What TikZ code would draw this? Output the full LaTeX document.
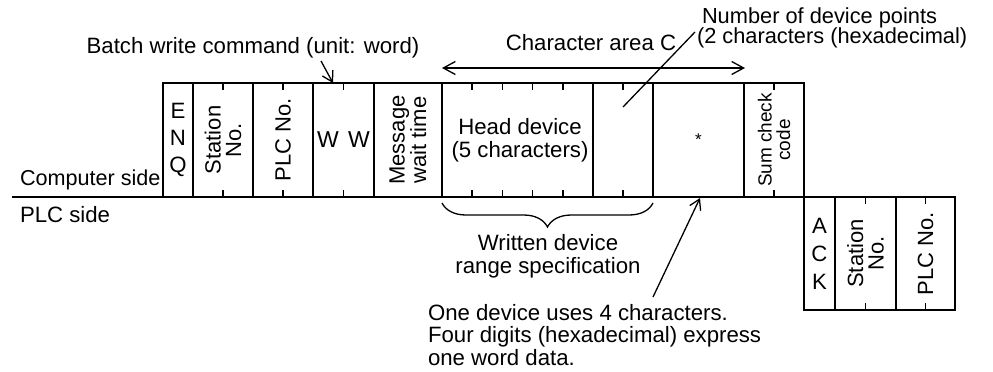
\documentclass[tikz,border=0pt]{standalone}
\usepackage{fontspec}
\setmainfont{Liberation Sans}
\usetikzlibrary{arrows.meta,decorations.pathreplacing,calc}
\begin{document}
\begin{tikzpicture}[x=1pt,y=-1pt,
  every node/.style={inner sep=0pt,outer sep=0pt,font=\fontsize{22.2}{23}\selectfont},
  cell/.style={draw,line width=1.8pt,minimum height=114pt},
  pcell/.style={draw,line width=1.8pt,minimum height=113pt},
  vtext/.style={rotate=90,align=center,font=\fontsize{22}{20.5}\selectfont},
  tickline/.style={line width=1.5pt},
  barb/.style={line width=1.3pt,-{Straight Barb[length=10pt,width=12pt]}},
  dbarb/.style={line width=1.3pt,{Straight Barb[length=12pt,width=13pt]}-{Straight Barb[length=12pt,width=13pt]}}
]
\useasboundingbox (0,0) rectangle (993,372);

% main line
\coordinate (lineL) at (12,197);
\coordinate (lineR) at (955,197);
\draw[line width=1.8pt] (lineL) -- (lineR);

% computer side cells
\node[cell,minimum width=30pt] (enq) at (178,140) {};
\node[cell,minimum width=60pt] (stn) at (223,140) {};
\node[cell,minimum width=60pt] (plc) at (283,140) {};
\node[cell,minimum width=61pt] (ww) at (343.5,140) {};
\node[cell,minimum width=68pt] (msg) at (408,140) {};
\node[cell,minimum width=151pt] (head) at (517.5,140) {};
\node[cell,minimum width=60pt] (npts) at (623,140) {};
\node[cell,minimum width=91pt] (data) at (698.5,140) {};
\node[cell,minimum width=60pt] (sum) at (774,140) {};

% PLC side cells
\node[pcell,minimum width=31pt] (ack) at (819.5,253.5) {};
\node[pcell,minimum width=61pt] (pstn) at (865.5,253.5) {};
\node[pcell,minimum width=59pt] (pplc) at (925.5,253.5) {};

% ticks
\foreach \b in {stn,plc,ww,npts,sum,pstn,pplc}{
  \draw[tickline] (\b.north) -- ++(0,7);
  \draw[tickline] (\b.south) -- ++(0,-7);
}
\foreach \k in {1,...,4}{
  \draw[tickline] ($(head.north west)!\k/5!(head.north east)$) -- ++(0,7);
  \draw[tickline] ($(head.south west)!\k/5!(head.south east)$) -- ++(0,-7);
}

% cell texts
\node[align=center,font=\fontsize{22.2}{27}\selectfont] (enqt) at (enq.center) {E\\N\\Q};
\node[vtext] (stnt) at (stn.center) {Station\\No.};
\node[vtext] (plct) at (plc.center) {PLC No.};
\node[font=\fontsize{23}{23}\selectfont] (w1) at (328,140) {W};
\node[font=\fontsize{23}{23}\selectfont] (w2) at (359,140) {W};
\node[vtext] (msgt) at (msg.center) {Message\\wait time};
\node[align=center] (headt) at (520,140) {Head device\\(5 characters)};
\node[font=\fontsize{17}{18}\selectfont] (datat) at (698.5,140) {*};
\node[vtext,font=\fontsize{19}{18.5}\selectfont] (sumt) at (sum.center) {Sum check\\code};
\node[align=center,font=\fontsize{22.2}{28}\selectfont] (ackt) at (ack.center) {A\\C\\K};
\node[vtext] (pstnt) at (pstn.center) {Station\\No.};
\node[vtext] (pplct) at (pplc.center) {PLC No.};

% side labels
\node[anchor=west,font=\fontsize{21.6}{23}\selectfont] (comp) at (20,180) {Computer side};
\node[anchor=west] (plcside) at (20,215) {PLC side};

% batch write command
\node (bw) at (253,48) {Batch write command (unit: word)};
\coordinate (bwfrom) at (321,61);
\coordinate (bwto) at (333,83);
\draw[barb] (bwfrom) -- (bwto);

% character area C
\node (ca) at (591,43) {Character area C};
\coordinate (caL) at (442,68);
\coordinate (caR) at (745,68);
\draw[dbarb] (caL) -- (caR);

% number of device points
\node[anchor=west,align=left,font=\fontsize{21.8}{20.5}\selectfont] (np) at (697,28) {\hspace*{5pt}Number of device points\\(2 characters (hexadecimal)};
\coordinate (npa) at (695,32);
\coordinate (npb) at (623,107);
\draw[line width=1.3pt] (npa) -- (npb);

% brace
\coordinate (brL) at (442,203);
\coordinate (brR) at (653,203);
\draw[line width=1.3pt,decorate,decoration={brace,mirror,amplitude=24pt}] (brL) -- (brR);
\node[align=center] (wd) at (548,256) {Written device\\range specification};

% one device
\node[anchor=west,align=left,font=\fontsize{22.2}{22.5}\selectfont] (od) at (428,335) {One device uses 4 characters.\\Four digits (hexadecimal) express\\one word data.};
\coordinate (odfrom) at (653,297);
\coordinate (odto) at (700,198);
\draw[barb] (odfrom) -- (odto);
\end{tikzpicture}
\end{document}
